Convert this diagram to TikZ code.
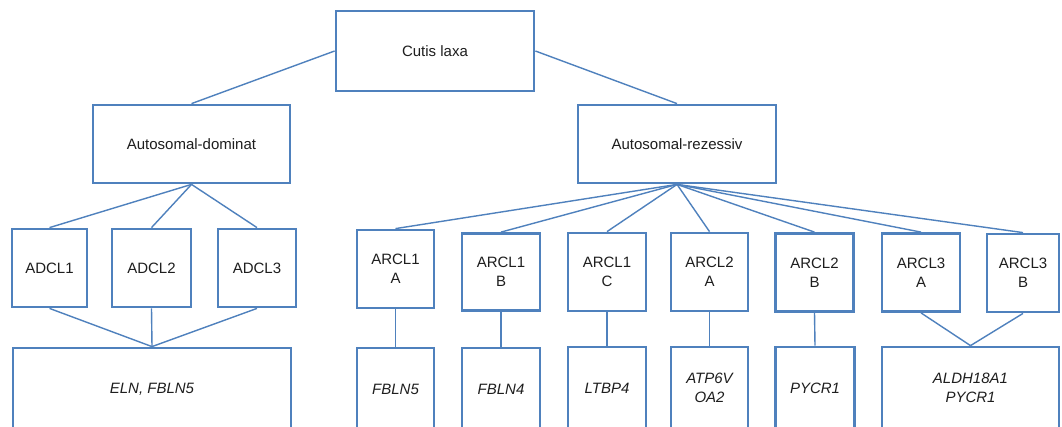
\documentclass[tikz,border=0pt]{standalone}
\usepackage{fontspec}
\setmainfont{Liberation Sans}
\definecolor{boxblue}{RGB}{79,129,189}
\definecolor{txt}{RGB}{30,30,30}
\begin{document}
\begin{tikzpicture}[x=1pt,y=-1pt,
  box/.style={draw=boxblue,line width=2.8pt,fill=white,rectangle,inner sep=0pt,
    align=center,text=txt,font=\fontsize{15}{19}\selectfont},
  gene/.style={box,font=\fontsize{15}{19}\selectfont\itshape},
  link/.style={draw=boxblue,line width=1.4pt}]
\useasboundingbox (0,0) rectangle (1062,426);
\clip (0,0) rectangle (1062,426);
\fill[white] (0,0) rectangle (1062,426);
% level 0/1
\node[box,minimum width=198,minimum height=80] (cutis) at (435,51) {Cutis laxa};
\node[box,minimum width=197,minimum height=78] (ad) at (191.5,144) {Autosomal-dominat};
\node[box,minimum width=198,minimum height=78] (ar) at (677,144) {Autosomal-rezessiv};
% level 2
\node[box,minimum width=75,minimum height=78] (adcl1) at (49.5,268) {ADCL1};
\node[box,minimum width=79,minimum height=78] (adcl2) at (151.5,268) {ADCL2};
\node[box,minimum width=78,minimum height=78] (adcl3) at (257,268) {ADCL3};
\node[box,minimum width=77,minimum height=78] (a1a) at (395.5,269) {ARCL1\\A};
\node[box,minimum width=78,minimum height=77] (a1b) at (501,272) {ARCL1\\B};
\node[box,minimum width=78,minimum height=78] (a1c) at (607,272) {ARCL1\\C};
\node[box,minimum width=77,minimum height=78] (a2a) at (709.5,272) {ARCL2\\A};
\node[box,minimum width=78,minimum height=78] (a2b) at (814.5,272.5) {ARCL2\\B};
\node[box,minimum width=78,minimum height=78] (a3a) at (921,272.5) {ARCL3\\A};
\node[box,minimum width=72,minimum height=78] (a3b) at (1023,273) {ARCL3\\B};
% level 3
\node[gene,minimum width=278,minimum height=82] (eln) at (152,389) {ELN, FBLN5};
\node[gene,minimum width=77,minimum height=82] (g1a) at (395.5,389) {FBLN5};
\node[gene,minimum width=78,minimum height=82] (g1b) at (501,389) {FBLN4};
\node[gene,minimum width=78,minimum height=82] (g1c) at (607,388) {LTBP4};
\node[gene,minimum width=77,minimum height=82] (g2a) at (709.5,388) {ATP6V\\OA2};
\node[gene,minimum width=79,minimum height=82] (g2b) at (815,388) {PYCR1};
\node[gene,minimum width=177,minimum height=82] (g3) at (970.5,388) {ALDH18A1\\PYCR1};
% connectors
\draw[link] (cutis.west) -- (ad.north);
\draw[link] (cutis.east) -- (ar.north);
\foreach \n in {adcl1,adcl2,adcl3}{
  \draw[link] (ad.south) -- (\n.north);
  \draw[link] (\n.south) -- (eln.north);
}
\foreach \n in {a1a,a1b,a1c,a2a,a2b,a3a,a3b}{
  \draw[link] (ar.south) -- (\n.north);
}
\draw[link] (a1a.south) -- (g1a.north);
\draw[link] (a1b.south) -- (g1b.north);
\draw[link] (a1c.south) -- (g1c.north);
\draw[link] (a2a.south) -- (g2a.north);
\draw[link] (a2b.south) -- (g2b.north);
\draw[link] (a3a.south) -- (g3.north);
\draw[link] (a3b.south) -- (g3.north);
\end{tikzpicture}
\end{document}
